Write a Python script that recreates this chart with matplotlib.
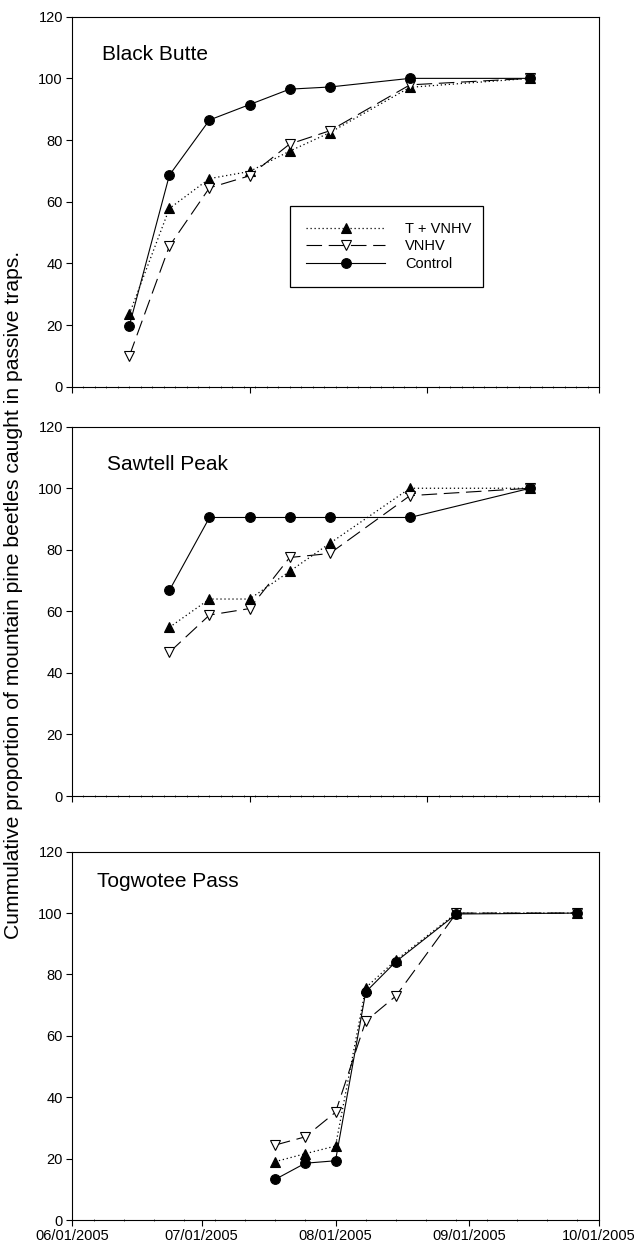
import matplotlib
matplotlib.use("Agg")
import matplotlib.pyplot as plt
import matplotlib.dates as mdates
from datetime import datetime, timedelta

plt.rcParams['font.family'] = ['Liberation Sans', 'DejaVu Sans']

# ---- data ----
series_labels = ["T + VNHV", "VNHV", "Control"]
site_names = ["Black Butte", "Sawtell Peak", "Togwotee Pass"]

bb_dates = ["07/11/2005", "07/18/2005", "07/25/2005", "08/01/2005",
            "08/08/2005", "08/15/2005", "08/29/2005", "09/19/2005"]
bb_t = [23.5, 57.8, 67.5, 69.8, 76.4, 82.4, 97.1, 100]
bb_v = [9.9, 45.6, 64.5, 68.4, 78.7, 83.0, 97.9, 100]
bb_c = [19.7, 68.6, 86.5, 91.5, 96.5, 97.2, 100, 100]

sp_dates = ["07/18/2005", "07/25/2005", "08/01/2005", "08/08/2005",
            "08/15/2005", "08/29/2005", "09/19/2005"]
sp_t = [54.8, 64.0, 64.0, 73.0, 82.1, 100, 100]
sp_v = [46.7, 58.8, 60.9, 77.5, 78.8, 97.6, 100]
sp_c = [66.8, 90.5, 90.5, 90.5, 90.5, 90.5, 100]

tp_dates = ["07/18/2005", "07/25/2005", "08/01/2005", "08/08/2005",
            "08/15/2005", "08/29/2005", "09/26/2005"]
tp_t = [19.0, 21.6, 24.1, 75.7, 84.7, 100, 100]
tp_v = [24.4, 27.1, 35.1, 64.8, 73.0, 100, 100]
tp_c = [13.2, 18.5, 19.3, 74.3, 84.2, 99.7, 100]

top_range = ["07/01/2005", "10/01/2005"]
bottom_range = ["06/01/2005", "10/01/2005"]
y_ticks = [0, 20, 40, 60, 80, 100, 120]
ylabel = "Cummulative proportion of mountain pine beetles caught in passive traps."

def d(s):
    return datetime.strptime(s, "%m/%d/%Y")

panels = [
    (site_names[0], bb_dates, bb_t, bb_v, bb_c, top_range),
    (site_names[1], sp_dates, sp_t, sp_v, sp_c, top_range),
    (site_names[2], tp_dates, tp_t, tp_v, tp_c, bottom_range),
]

W, H = 634, 1251
fig = plt.figure(figsize=(W / 100, H / 100), dpi=100)

# axes pixel boxes (left, top, right, bottom)
boxes = [(72, 16.7, 599, 386.7), (72, 426.7, 599, 796), (72, 851.7, 599, 1220)]
title_pos = [(0.057, 0.898), (0.067, 0.898), (0.047, 0.92)]

styles = [
    dict(color="black", linestyle=(0, (1, 2.2)), lw=0.9, marker="^", ms=6.5,
         mfc="black", mec="black", mew=0.8),
    dict(color="black", linestyle=(0, (14, 6)), lw=0.8, marker="v", ms=6.5,
         mfc="white", mec="black", mew=0.8),
    dict(color="black", linestyle="-", lw=0.8, marker="o", ms=7,
         mfc="black", mec="black", mew=0.8),
]

for i, (name, dates, t, v, c, rng) in enumerate(panels):
    l, tp, r, b = boxes[i]
    ax = fig.add_axes([l / W, 1 - b / H, (r - l) / W, (b - tp) / H])
    xs = [d(s) for s in dates]
    lines = []
    for vals, st, lab in zip([t, v, c], styles, series_labels):
        ln, = ax.plot(xs, vals, label=lab, **st)
        lines.append(ln)
    x0, x1 = d(rng[0]), d(rng[1])
    ax.set_xlim(x0, x1)
    ax.set_ylim(0, 120)
    ax.set_yticks(y_ticks)
    ax.xaxis.set_major_locator(mdates.MonthLocator())
    if i < 2:
        minors = []
        cur = x0
        while cur < x1:
            minors.append(mdates.date2num(cur))
            cur += timedelta(days=2)
        ax.xaxis.set_minor_locator(matplotlib.ticker.FixedLocator(minors))
        ax.tick_params(axis='x', which='major', labelbottom=False)
    else:
        ax.xaxis.set_minor_locator(mdates.WeekdayLocator(byweekday=mdates.MO))
        ax.xaxis.set_major_formatter(mdates.DateFormatter("%m/%d/%Y"))
    ax.tick_params(axis='both', which='major', direction='out', length=4,
                   width=0.8, labelsize=10.5, pad=2.5)
    ax.tick_params(axis='x', which='minor', direction='inout', length=2,
                   width=0.5)
    for sp in ax.spines.values():
        sp.set_linewidth(0.8)
    ax.text(title_pos[i][0], title_pos[i][1], name, transform=ax.transAxes,
            ha='left', va='center', fontsize=15)
    if i == 0:
        leg = ax.legend(handles=lines, loc='lower left',
                        bbox_to_anchor=(0.414, 0.269, 0.366, 0.219),
                        mode='expand', fontsize=10.5, handlelength=5.4,
                        fancybox=False, framealpha=1, edgecolor='black',
                        borderpad=1.1, labelspacing=0.25, handletextpad=1.4,
                        borderaxespad=0)
        leg.get_frame().set_linewidth(0.9)

fig.text(14 / W, 1 - 595 / H, ylabel, rotation=90, ha='center', va='center',
         fontsize=15.2)

fig.savefig("out.png", dpi=100)
